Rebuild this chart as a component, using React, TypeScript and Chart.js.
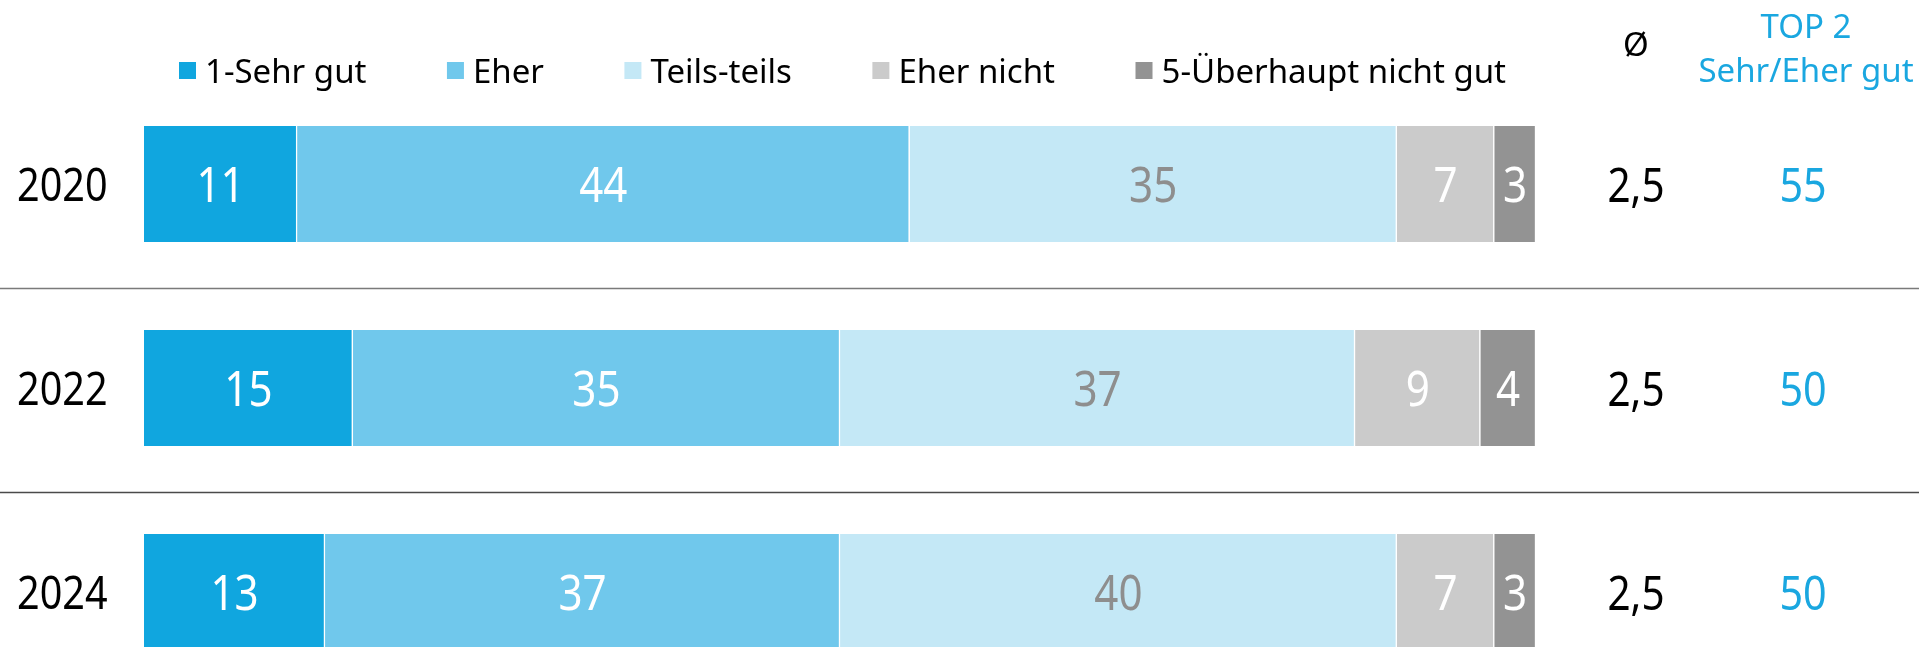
import React, { useEffect, useRef } from "react";
import { Chart, registerables } from "chart.js";

Chart.register(...registerables);

const categories = ["2020", "2022", "2024"];
const seriesNames = ["1-Sehr gut", "Eher", "Teils-teils", "Eher nicht", "5-Überhaupt nicht gut"];
const sehrGut = [11, 15, 13];
const eher = [44, 35, 37];
const teils = [35, 37, 40];
const eherNicht = [7, 9, 7];
const ueberhauptNicht = [3, 4, 3];
const averages = ["2,5", "2,5", "2,5"];
const top2 = ["55", "50", "50"];
const headerAvg = "Ø";
const headerTop = ["TOP 2", "Sehr/Eher gut"];

const seriesValues = [sehrGut, eher, teils, eherNicht, ueberhauptNicht];
const colors = ["#10A6DF", "#70C8EC", "#C4E8F6", "#CBCBCB", "#939393"];
const valueColors = ["#FFFFFF", "#FFFFFF", "#8E8E8E", "#FFFFFF", "#FFFFFF"];
const separatorColors = ["#7A7A7A", "#4A4A4A"];
const blue = "#1AA7E0";

const SANS = '"Noto Sans", "Open Sans", sans-serif';
const NUM_SCALE = 0.86;

function drawCapCentered(
  ctx: CanvasRenderingContext2D,
  text: string,
  x: number,
  cy: number,
  font: string,
  color: string,
  align: CanvasTextAlign,
  ref = "H",
  sx = 1
) {
  ctx.save();
  ctx.font = font;
  ctx.fillStyle = color;
  ctx.textAlign = align;
  ctx.textBaseline = "alphabetic";
  const asc = ctx.measureText(ref).actualBoundingBoxAscent;
  ctx.translate(x, 0);
  ctx.scale(sx, 1);
  ctx.fillText(text, 0, cy + asc / 2);
  ctx.restore();
}

const overlayPlugin = {
  id: "overlay",
  afterDatasetsDraw(chart: any) {
    const ctx: CanvasRenderingContext2D = chart.ctx;
    const yScale = chart.scales.y;
    const W = chart.width;

    // separators between categories
    ctx.save();
    ctx.lineWidth = 1.5;
    for (let i = 0; i < categories.length - 1; i++) {
      const y = (yScale.getPixelForValue(i) + yScale.getPixelForValue(i + 1)) / 2 + 2.5;
      ctx.strokeStyle = separatorColors[i % separatorColors.length];
      ctx.beginPath();
      ctx.moveTo(0, y);
      ctx.lineTo(W, y);
      ctx.stroke();
    }
    ctx.restore();

    // values inside bars
    chart.data.datasets.forEach((ds: any, di: number) => {
      const meta = chart.getDatasetMeta(di);
      meta.data.forEach((el: any, i: number) => {
        const v = ds.data[i];
        const cx = (el.x + el.base) / 2;
        drawCapCentered(ctx, String(v), cx, el.y, `49px ${SANS}`, valueColors[di], "center", "0", NUM_SCALE);
      });
    });

    // year labels and right columns
    categories.forEach((c, i) => {
      const cy = yScale.getPixelForValue(i);
      drawCapCentered(ctx, c, 17, cy, `46px ${SANS}`, "#000000", "left", "0", NUM_SCALE);
      drawCapCentered(ctx, averages[i], 1636, cy, `47px ${SANS}`, "#000000", "center", "0", NUM_SCALE);
      drawCapCentered(ctx, top2[i], 1803, cy, `48px ${SANS}`, blue, "center", "0", NUM_SCALE);
    });

    // legend
    ctx.save();
    const legendFont = `33px ${SANS}`;
    let x = 179;
    const ly = 70.5;
    seriesNames.forEach((name, i) => {
      ctx.fillStyle = colors[i];
      ctx.fillRect(x, ly - 8.5, 17, 17);
      const tx = x + 17 + 9;
      drawCapCentered(ctx, name, tx, ly, legendFont, "#000000", "left");
      ctx.font = legendFont;
      x = tx + ctx.measureText(name).width + 80.5;
    });
    ctx.restore();

    // headers
    drawCapCentered(ctx, headerAvg, 1636, 44, `33px ${SANS}`, "#000000", "center");
    drawCapCentered(ctx, headerTop[0], 1806, 25.5, `33px ${SANS}`, blue, "center");
    drawCapCentered(ctx, headerTop[1], 1806, 69.5, `33px ${SANS}`, blue, "center");
  },
};

export default function App() {
  const ref = useRef<HTMLCanvasElement | null>(null);
  useEffect(() => {
    if (!ref.current) return;
    const chart = new Chart(ref.current, {
      type: "bar",
      data: {
        labels: categories,
        datasets: seriesNames.map((n, i) => ({
          label: n,
          data: seriesValues[i],
          backgroundColor: colors[i],
          borderColor: "#FFFFFF",
          borderWidth: { left: 0, right: 1.5, top: 0, bottom: 0 },
          borderSkipped: false,
          barThickness: 116,
        })),
      },
      options: {
        indexAxis: "y",
        animation: false,
        responsive: true,
        maintainAspectRatio: false,
        layout: { padding: { left: 144, right: 383, top: 82, bottom: 6 } },
        plugins: { legend: { display: false }, tooltip: { enabled: false } },
        scales: {
          x: { type: "linear", stacked: true, min: 0, max: 100, display: false },
          y: { type: "category", stacked: true, display: false, offset: true },
        },
      },
      plugins: [overlayPlugin],
    } as any);
    return () => chart.destroy();
  }, []);
  return (
    <div style={{ position: "fixed", left: 0, top: 0, width: 1919, height: 700, background: "#fff" }}>
      <canvas ref={ref} />
    </div>
  );
}
